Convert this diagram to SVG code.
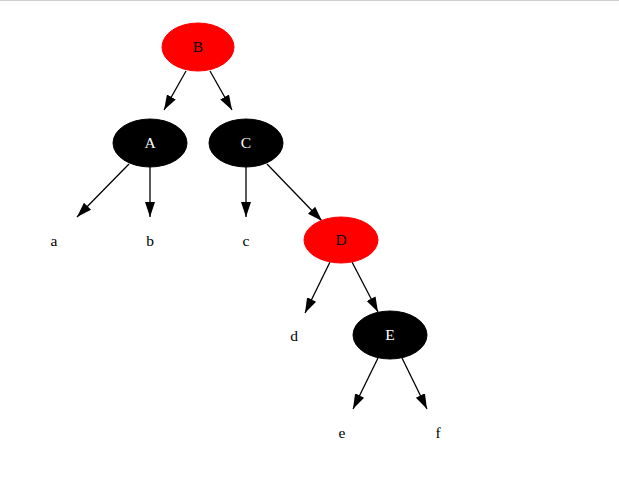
<svg xmlns="http://www.w3.org/2000/svg" width="619" height="477" viewBox="0 0 619 477">
<defs>
<marker id="ah" markerUnits="userSpaceOnUse" markerWidth="16" markerHeight="12" viewBox="0 0 16 12" refX="15" refY="6" orient="auto">
<path d="M0,1 L15,6 L0,11 Z" fill="#000"/>
</marker>
<style>
.red{fill:#ff0000;stroke:#ff0000}
.blk{fill:#000;stroke:#000}
text{font-family:"Liberation Serif","Times New Roman",serif;font-size:15.5px;text-anchor:middle}
.w{fill:#fff}
.k{fill:#000}
.e{stroke:#000;stroke-width:1.3;fill:none;marker-end:url(#ah)}
</style>
</defs>
<rect width="619" height="477" fill="#fff"/>
<line x1="0" y1="0.5" x2="619" y2="0.5" stroke="#cfcfcf" stroke-width="1"/>
<g id="edges">
<line class="e" x1="186" y1="71" x2="164" y2="110"/>
<line class="e" x1="210" y1="71" x2="232" y2="110"/>
<line class="e" x1="129" y1="164" x2="77" y2="217"/>
<line class="e" x1="150" y1="167" x2="150" y2="217"/>
<line class="e" x1="246" y1="167" x2="246" y2="217"/>
<line class="e" x1="267" y1="164" x2="322" y2="221"/>
<line class="e" x1="330" y1="262" x2="305" y2="313"/>
<line class="e" x1="352" y1="262" x2="378" y2="312"/>
<line class="e" x1="378" y1="358" x2="353" y2="409"/>
<line class="e" x1="402" y1="358" x2="427" y2="409"/>
</g>
<g id="B"><ellipse class="red" cx="198" cy="47" rx="36" ry="24"/><text class="k" x="198" y="52">B</text></g>
<g id="A"><ellipse class="blk" cx="150" cy="143" rx="37" ry="24"/><text class="w" x="150" y="148">A</text></g>
<g id="C"><ellipse class="blk" cx="246" cy="143" rx="37" ry="24"/><text class="w" x="246" y="148">C</text></g>
<g id="D"><ellipse class="red" cx="341" cy="240" rx="37" ry="23"/><text class="k" x="341" y="245">D</text></g>
<g id="E"><ellipse class="blk" cx="390" cy="335" rx="37" ry="24"/><text class="w" x="390" y="340">E</text></g>
<g id="a"><text class="k" x="54" y="246">a</text></g>
<g id="b"><text class="k" x="150" y="246">b</text></g>
<g id="c"><text class="k" x="246" y="246">c</text></g>
<g id="d"><text class="k" x="294" y="341">d</text></g>
<g id="e"><text class="k" x="342" y="438">e</text></g>
<g id="f"><text class="k" x="438" y="438">f</text></g>
</svg>
